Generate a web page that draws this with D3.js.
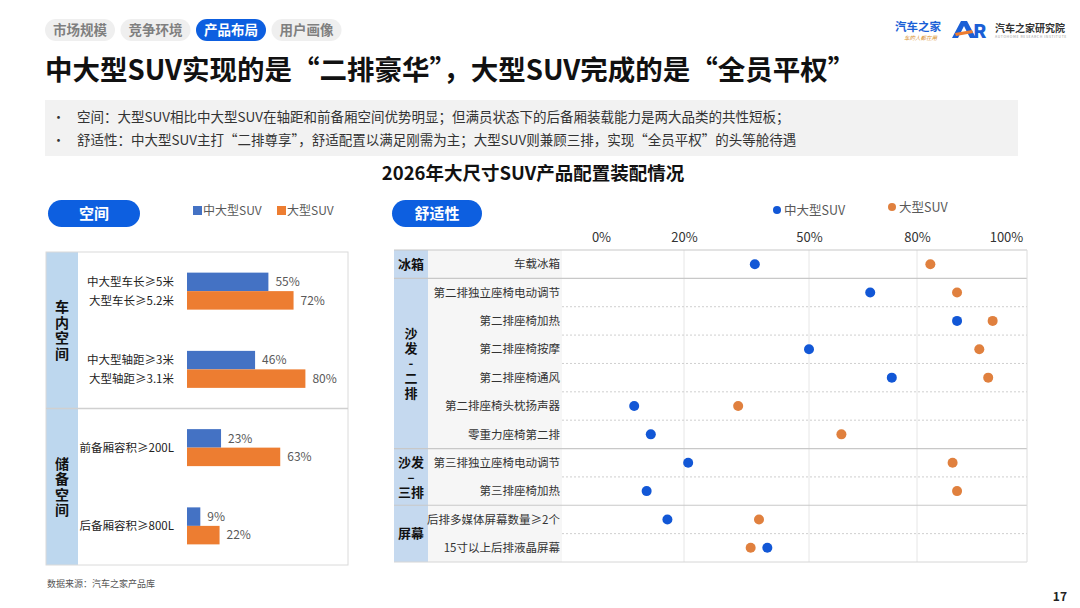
<!DOCTYPE html>
<html>
<head>
<meta charset="utf-8">
<script src="https://cdn.jsdelivr.net/npm/d3@7"></script>
<style>
  html, body { margin: 0; padding: 0; background: #fff; }
  svg { display: block; }
</style>
</head>
<body>
<script>
// page text
const tabs = ['市场规模', '竞争环境', '产品布局', '用户画像'];
const activeTab = '产品布局';
const pageTitle = '中大型SUV实现的是“二排豪华”，大型SUV完成的是“全员平权”';
const bullets = [
  '空间：大型SUV相比中大型SUV在轴距和前备厢空间优势明显；但满员状态下的后备厢装载能力是两大品类的共性短板；',
  '舒适性：中大型SUV主打“二排尊享”，舒适配置以满足刚需为主；大型SUV则兼顾三排，实现“全员平权”的头等舱待遇'
];
const chartTitle = '2026年大尺寸SUV产品配置装配情况';
const seriesNames = ['中大型SUV', '大型SUV'];
const sourceNote = '数据来源：汽车之家产品库';
const pageNo = '17';

// left: space
const spaceGroups = ['车内空间', '储备空间'];
const spaceGroupOf = ['车内空间', '车内空间', '储备空间', '储备空间'];
const spaceLabels = [
  ['中大型车长≥5米', '大型车长≥5.2米'],
  ['中大型轴距≥3米', '大型轴距≥3.1米'],
  ['前备厢容积≥200L'],
  ['后备厢容积≥800L']
];
const spaceMid = [55, 46, 23, 9];
const spaceLarge = [72, 80, 63, 22];

// right: comfort
const comfortGroups = ['冰箱', '沙发-二排', '沙发-三排', '屏幕'];
const comfortItems = ['车载冰箱', '第二排独立座椅电动调节', '第二排座椅加热', '第二排座椅按摩', '第二排座椅通风',
  '第二排座椅头枕扬声器', '零重力座椅第二排', '第三排独立座椅电动调节', '第三排座椅加热',
  '后排多媒体屏幕数量≥2个', '15寸以上后排液晶屏幕'];
const comfortGroupOf = ['冰箱', '沙发-二排', '沙发-二排', '沙发-二排', '沙发-二排', '沙发-二排', '沙发-二排',
  '沙发-三排', '沙发-三排', '屏幕', '屏幕'];
const comfortMid = [37, 67, 89, 50, 73, 8, 12, 21, 11, 16, 40];
const comfortLarge = [83, 89, 97, 94, 96, 33, 59, 88, 89, 38, 36];
const comfortTicks = [0, 20, 50, 80, 100];
const comfortGrid = [20, 50, 80];

const groupLines = {
  '车内空间': ['车', '内', '空', '间'],
  '储备空间': ['储', '备', '空', '间'],
  '冰箱': ['冰箱'],
  '沙发-二排': ['沙', '发', '-', '二', '排'],
  '沙发-三排': ['沙发', '–', '三排'],
  '屏幕': ['屏幕']
};

const F = '"Noto Sans CJK SC","Noto Sans",sans-serif';
const BLUE = '#0d5fe0';
const BAR = ['#4472c4', '#ed7d31'];
const DOT = ['#1257d6', '#e0803e'];

const svg = d3.select('body').append('svg')
  .attr('width', 1080).attr('height', 608)
  .style('font-family', F);
svg.append('rect').attr('width', 1080).attr('height', 608).attr('fill', '#fff');

// header tabs
const tabG = svg.append('g');
tabs.forEach((t, i) => {
  const x = 45 + i * 75.5, on = t === activeTab;
  tabG.append('rect').attr('x', x).attr('y', 19).attr('width', 70).attr('height', 22).attr('rx', 11)
    .attr('fill', on ? BLUE : '#efefef');
  tabG.append('text').attr('x', x + 35).attr('y', 35).attr('text-anchor', 'middle')
    .attr('font-size', 13.5).attr('font-weight', 700).attr('fill', on ? '#fff' : '#7f7f7f').text(t);
});

// logo
const logo = svg.append('g');
logo.append('text').attr('x', 895).attr('y', 31).attr('font-size', 11.5).attr('font-weight', 700)
  .attr('fill', '#1a5fd6').text('汽车之家');
logo.append('text').attr('x', 904).attr('y', 40).attr('font-size', 5.5).attr('font-style', 'italic')
  .attr('fill', '#d9902c').text('车的人都在用');
logo.append('path').attr('d', 'M952,38 L961,21 L967,21 L976,38 L970,38 L964,26 L958,38 Z').attr('fill', '#1a5fd6');
logo.append('path').attr('d', 'M955,33 L972,30 L973,33 L956,36 Z').attr('fill', '#ed7d31');
logo.append('text').attr('x', 973).attr('y', 38).attr('font-size', 19).attr('font-weight', 900)
  .attr('fill', '#1a5fd6').text('R');
logo.append('text').attr('x', 995).attr('y', 32).attr('font-size', 10).attr('font-weight', 700)
  .attr('fill', '#333').text('汽车之家研究院');
logo.append('text').attr('x', 995).attr('y', 38).attr('font-size', 3.5).attr('fill', '#999')
  .attr('letter-spacing', 0.6).text('AUTOHOME RESEARCH INSTITUTE');

// title + summary
svg.append('text').attr('x', 45).attr('y', 80).attr('font-size', 27.5).attr('font-weight', 700)
  .attr('fill', '#111').text(pageTitle);
svg.append('rect').attr('x', 45).attr('y', 100).attr('width', 973).attr('height', 56).attr('fill', '#f2f2f2');
bullets.forEach((b, i) => {
  const y = 122 + i * 23;
  svg.append('text').attr('x', 52).attr('y', y).attr('font-size', 13).attr('fill', '#333').text('•');
  svg.append('text').attr('x', 77).attr('y', y).attr('font-size', 13.5).attr('fill', '#333').text(b);
});
svg.append('text').attr('x', 533).attr('y', 180).attr('text-anchor', 'middle').attr('font-size', 18.5)
  .attr('font-weight', 700).attr('fill', '#111').text(chartTitle);

function pill(x, w, label) {
  svg.append('rect').attr('x', x).attr('y', 200).attr('width', w).attr('height', 27).attr('rx', 13.5).attr('fill', BLUE);
  svg.append('text').attr('x', x + w / 2).attr('y', 219).attr('text-anchor', 'middle').attr('font-size', 15)
    .attr('font-weight', 700).attr('fill', '#fff').text(label);
}

function groupLabel(g, cx, cy, lines, size, lh) {
  const t = g.append('text').attr('text-anchor', 'middle').attr('font-size', size).attr('font-weight', 700)
    .attr('fill', '#111');
  const y0 = cy - (lines.length - 1) * lh / 2;
  lines.forEach((l, i) => t.append('tspan').attr('x', cx).attr('y', y0 + i * lh).attr('dy', '0.36em').text(l));
}

// ---------- left panel: space bars ----------
pill(48, 92, '空间');
seriesNames.forEach((s, i) => {
  const x = 193 + i * 84;
  svg.append('rect').attr('x', x).attr('y', 206).attr('width', 9).attr('height', 9).attr('fill', BAR[i]);
  svg.append('text').attr('x', x + 10).attr('y', 215).attr('font-size', 12).attr('fill', '#595959').text(s);
});

const L = { x0: 46, x1: 348, y0: 252, y1: 565, cat: 78 };
const left = svg.append('g');
const yS = d3.scaleBand().domain(d3.range(spaceLabels.length)).range([L.y0, L.y1]);
const xS = d3.scaleLinear().domain([0, 100]).range([187, 335]);
const barH = 18.5;

left.append('rect').attr('x', L.x0).attr('y', L.y0).attr('width', L.cat - L.x0).attr('height', L.y1 - L.y0)
  .attr('fill', '#bdd7ee');
left.append('rect').attr('x', L.x0).attr('y', L.y0).attr('width', L.x1 - L.x0).attr('height', L.y1 - L.y0)
  .attr('fill', 'none').attr('stroke', '#dadada');

spaceGroups.forEach(g => {
  const idx = spaceGroupOf.map((d, i) => d === g ? i : -1).filter(i => i >= 0);
  const top = yS(idx[0]), bot = yS(idx[idx.length - 1]) + yS.bandwidth();
  groupLabel(left, (L.x0 + L.cat) / 2, (top + bot) / 2, groupLines[g], 14, 15.5);
  if (bot < L.y1) left.append('line').attr('x1', L.x0).attr('x2', L.x1).attr('y1', bot).attr('y2', bot)
    .attr('stroke', '#d0d0d0').attr('stroke-width', 1.5);
});

spaceLabels.forEach((labels, i) => {
  const c = yS(i) + yS.bandwidth() / 2;
  [spaceMid[i], spaceLarge[i]].forEach((v, k) => {
    const y = k === 0 ? c - barH : c;
    left.append('rect').attr('x', xS(0)).attr('y', y).attr('width', xS(v) - xS(0)).attr('height', barH)
      .attr('fill', BAR[k]);
    left.append('text').attr('x', xS(v) + 7).attr('y', y + barH / 2).attr('dy', '0.36em')
      .attr('font-size', 12).attr('fill', '#595959').text(v + '%');
  });
  labels.forEach((l, k) => {
    const y = labels.length === 1 ? c : c + (k === 0 ? -barH / 2 : barH / 2);
    left.append('text').attr('x', 174).attr('y', y).attr('dy', '0.36em').attr('text-anchor', 'end')
      .attr('font-size', 11.5).attr('fill', '#222').text(l);
  });
});

// ---------- right panel: comfort dots ----------
pill(392, 90, '舒适性');
[[777, 210], [892, 207]].forEach(([x, y], i) => {
  svg.append('circle').attr('cx', x).attr('cy', y).attr('r', 4).attr('fill', DOT[i]);
  svg.append('text').attr('x', x + 7).attr('y', y).attr('dy', '0.36em').attr('font-size', 12.5)
    .attr('fill', '#595959').text(seriesNames[i]);
});

const R = { x0: 394, cat: 428, lab: 562, x1: 1027, y0: 250, y1: 562 };
const right = svg.append('g');
const x = d3.scaleLinear().domain(comfortTicks).range([601, 684, 809, 917, 1006]);
const y = d3.scaleBand().domain(d3.range(comfortItems.length)).range([R.y0, R.y1]);

right.append('rect').attr('x', R.x0).attr('y', R.y0).attr('width', R.cat - R.x0).attr('height', R.y1 - R.y0)
  .attr('fill', '#c5d9ef');
right.append('rect').attr('x', R.cat).attr('y', R.y0).attr('width', R.lab - R.cat).attr('height', R.y1 - R.y0)
  .attr('fill', '#f6f6f6');

// vertical grid
right.selectAll('line.grid').data(comfortGrid).join('line').attr('class', 'grid')
  .attr('x1', d => x(d)).attr('x2', d => x(d)).attr('y1', R.y0).attr('y2', R.y1)
  .attr('stroke', '#e6e6e6');

// tick labels
const axis = d3.axisTop(x).tickValues(comfortTicks).tickFormat(d => d + '%').tickSize(0).tickPadding(0);
const ax = right.append('g').attr('transform', 'translate(0,242)').call(axis);
ax.select('.domain').remove();
ax.selectAll('text').attr('font-family', F).attr('font-size', 13).attr('fill', '#333').attr('dy', 0);

// dotted row separators within a group
comfortItems.forEach((d, i) => {
  if (i === 0) return;
  if (comfortGroupOf[i] === comfortGroupOf[i - 1]) {
    right.append('line').attr('x1', R.lab).attr('x2', R.x1).attr('y1', y(i)).attr('y2', y(i))
      .attr('stroke', '#cfcfcf').attr('stroke-dasharray', '2,2');
  }
});

comfortGroups.forEach(g => {
  const idx = comfortGroupOf.map((d, i) => d === g ? i : -1).filter(i => i >= 0);
  const top = y(idx[0]), bot = y(idx[idx.length - 1]) + y.bandwidth();
  const lines = groupLines[g];
  groupLabel(right, (R.x0 + R.cat) / 2, (top + bot) / 2, lines, 13, 15);
  right.append('line').attr('x1', R.x0).attr('x2', R.x1).attr('y1', top).attr('y2', top)
    .attr('stroke', '#c8c8c8').attr('stroke-width', 1.2);
});
right.append('line').attr('x1', R.x0).attr('x2', R.x1).attr('y1', R.y1).attr('y2', R.y1)
  .attr('stroke', '#d6d6d6');
right.append('line').attr('x1', R.x1).attr('x2', R.x1).attr('y1', R.y0).attr('y2', R.y1)
  .attr('stroke', '#dcdcdc');

right.selectAll('text.item').data(comfortItems).join('text').attr('class', 'item')
  .attr('x', R.lab - 2).attr('y', (d, i) => y(i) + y.bandwidth() / 2).attr('dy', '0.36em')
  .attr('text-anchor', 'end').attr('font-size', 11.5).attr('fill', '#333').text(d => d);

[comfortMid, comfortLarge].forEach((vals, k) => {
  right.selectAll('circle.s' + k).data(vals).join('circle').attr('class', 's' + k)
    .attr('cx', d => x(d)).attr('cy', (d, i) => y(i) + y.bandwidth() / 2).attr('r', 5)
    .attr('fill', DOT[k]);
});

// footer
svg.append('text').attr('x', 47).attr('y', 587).attr('font-size', 9).attr('fill', '#555').text(sourceNote);
svg.append('text').attr('x', 1067).attr('y', 601).attr('text-anchor', 'end').attr('font-size', 12)
  .attr('font-weight', 700).attr('fill', '#222').text(pageNo);
</script>
</body>
</html>
